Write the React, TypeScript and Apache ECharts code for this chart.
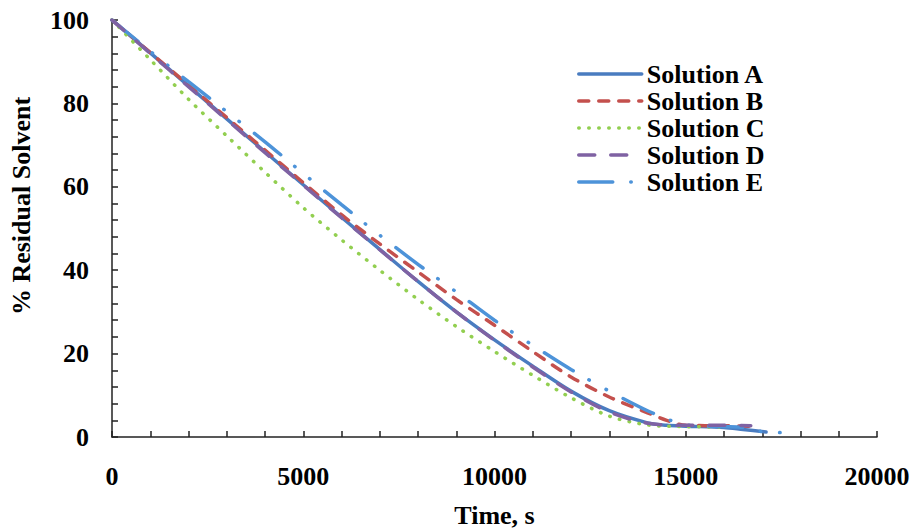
import React, { useEffect, useRef } from "react";
import * as echarts from "echarts";

const seriesNames = ["Solution A", "Solution B", "Solution C", "Solution D", "Solution E"];

const timesA = [0, 1000, 2000, 3000, 4000, 5000, 6000, 7000, 8000, 9000, 10000, 11000, 12000, 13000, 14000, 14500, 15000, 16000, 16500, 17100];
const valuesA = [100, 92.1, 84.2, 76.3, 68.4, 60.5, 52.7, 45.0, 37.3, 30.0, 23.3, 17.0, 11.0, 6.3, 3.4, 2.8, 2.6, 2.3, 1.8, 1.2];

const timesB = [0, 1000, 2000, 3000, 4000, 5000, 6000, 7000, 8000, 9000, 10000, 11000, 12000, 13000, 14000, 14500, 15000, 16000, 16700];
const valuesB = [100, 92.2, 84.4, 76.6, 68.8, 61.0, 53.3, 46.3, 39.6, 33.0, 26.8, 20.5, 14.4, 9.6, 5.8, 4.0, 2.8, 2.7, 2.6];

const timesC = [0, 1000, 2000, 3000, 4000, 5000, 6000, 7000, 8000, 9000, 10000, 11000, 12000, 13000, 14000, 15000, 16000];
const valuesC = [100, 90.5, 81.0, 72.2, 63.5, 55.0, 47.3, 40.0, 33.0, 26.5, 20.5, 14.8, 9.4, 5.0, 2.9, 2.5, 2.4];

const timesD = [0, 1000, 2000, 3000, 4000, 5000, 6000, 7000, 8000, 9000, 10000, 11000, 12000, 13000, 14000, 15000, 16000, 16700];
const valuesD = [100, 92.0, 84.0, 76.1, 68.2, 60.4, 52.6, 44.9, 37.3, 30.0, 23.2, 16.8, 10.8, 6.0, 3.3, 2.8, 2.8, 2.7];

const timesE = [0, 1000, 2000, 3000, 4000, 5000, 6000, 7000, 8000, 9000, 10000, 11000, 12000, 13000, 14000, 14600, 15000, 16000, 16500, 17000, 17700];
const valuesE = [100, 92.5, 85.2, 78.0, 70.8, 63.2, 55.7, 48.4, 41.4, 34.8, 28.0, 22.0, 16.2, 11.0, 6.3, 4.0, 2.9, 2.5, 2.3, 1.3, 1.0];

const xTicks = { min: 0, max: 20000, interval: 5000 };
const yTicks = { min: 0, max: 100, interval: 20 };

const colors = ["#4a7cc0", "#c4504d", "#92cf50", "#7f62a3", "#4d93d9"];
const dashes: any[] = ["solid", [10, 10], [0.5, 9.5], [16, 16], [34, 18, 0.5, 19, 0.5, 19]];

const pairs = (t: number[], v: number[]) => t.map((x, i) => [x, v[i]]);

const FONT = "'Liberation Serif', 'Times New Roman', serif";

export default function App() {
  const ref = useRef<HTMLDivElement>(null);
  useEffect(() => {
    if (!ref.current) return;
    const chart = echarts.init(ref.current, undefined, { renderer: "svg" });
    const data = [
      pairs(timesA, valuesA),
      pairs(timesB, valuesB),
      pairs(timesC, valuesC),
      pairs(timesD, valuesD),
      pairs(timesE, valuesE),
    ];
    const labelStyle = { fontFamily: FONT, fontWeight: "bold" as const, fontSize: 26, color: "#000" };
    chart.setOption({
      animation: false,
      backgroundColor: "#fff",
      grid: { left: 112, right: 35, top: 20, bottom: 91, containLabel: false, outerBoundsMode: "none" },
      legend: {
        orient: "vertical",
        left: 572,
        top: 56,
        itemWidth: 63,
        itemHeight: 14,
        itemGap: 1,
        itemStyle: { opacity: 0 },
        lineStyle: { width: 3.5 },
        textStyle: { ...labelStyle },
        data: seriesNames,
      },
      xAxis: {
        type: "value",
        min: xTicks.min,
        max: xTicks.max,
        interval: xTicks.interval,
        name: "Time, s",
        nameLocation: "middle",
        nameGap: 65,
        nameTextStyle: { ...labelStyle },
        axisLine: { lineStyle: { color: "#222", width: 1.5 } },
        axisTick: { show: true, inside: true, length: 6, lineStyle: { color: "#222", width: 1.5 } },
        minorTick: { show: true, splitNumber: 5, length: 6, lineStyle: { color: "#222", width: 1.5 } },
        axisLabel: { ...labelStyle, margin: 26, formatter: (v: number) => String(v) },
        splitLine: { show: false },
      },
      yAxis: {
        type: "value",
        min: yTicks.min,
        max: yTicks.max,
        interval: yTicks.interval,
        axisLine: { show: true, lineStyle: { color: "#222", width: 1.5 } },
        axisTick: { show: true, inside: true, length: 6, lineStyle: { color: "#222", width: 1.5 } },
        minorTick: { show: true, splitNumber: 5, length: 6, lineStyle: { color: "#222", width: 1.5 } },
        axisLabel: { ...labelStyle, margin: 23, formatter: (v: number) => String(v) },
        splitLine: { show: false },
      },
      graphic: [
        {
          type: "text",
          x: 21,
          y: 206,
          rotation: Math.PI / 2,
          style: {
            text: "% Residual Solvent",
            font: `bold 26px ${FONT}`,
            fill: "#000",
            textAlign: "center",
            textVerticalAlign: "middle",
          },
        },
      ],
      series: seriesNames.map((name, i) => ({
        name,
        type: "line",
        data: data[i],
        smooth: 0.3,
        symbol: "none",
        showSymbol: false,
        color: colors[i],
        lineStyle: { color: colors[i], width: 3.5, type: dashes[i], cap: "round" },
        z: i === 3 ? 3 : 2,
      })),
    });
    return () => chart.dispose();
  }, []);
  return <div ref={ref} style={{ position: "fixed", left: 0, top: 0, width: 912, height: 528 }} />;
}
